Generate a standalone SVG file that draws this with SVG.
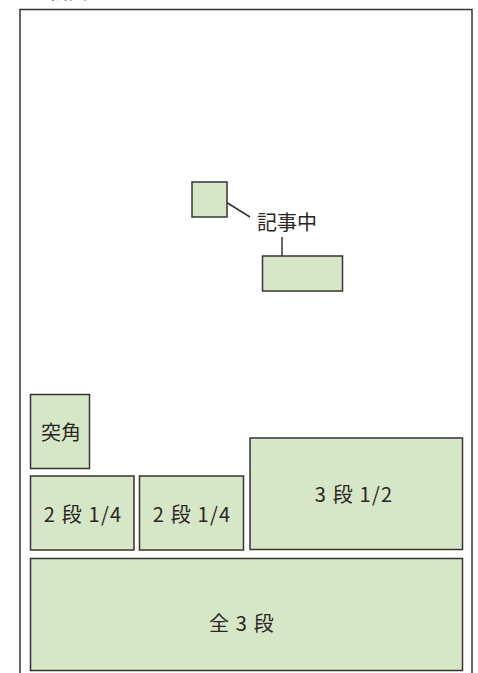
<svg xmlns="http://www.w3.org/2000/svg" width="478" height="673" viewBox="0 0 478 673">
<style>
.box{fill:#d5e7c6;stroke:#3a3230;stroke-width:1.5}
.ln{fill:none;stroke:#3a3230;stroke-width:1.5}
.t{font-family:"Noto Sans CJK JP","Noto Sans",sans-serif;font-size:20px;fill:#2b2624;text-anchor:middle}
.n{letter-spacing:1.2px}
</style>
<rect width="478" height="673" fill="#ffffff"/>
<g id="frame">
<path class="ln" d="M20,673 V9.5 H472 V673"/>
<text class="t" x="68" y="-1.5">紙面</text>
</g>
<g id="connectors">
<line class="ln" x1="221" y1="199" x2="250" y2="217"/>
<line class="ln" x1="282" y1="237" x2="282" y2="264"/>
</g>
<g id="small-box"><rect class="box" x="192" y="182" width="35" height="35"/></g>
<g id="label-kiji"><text class="t" x="287" y="230">記事中</text></g>
<g id="wide-box"><rect class="box" x="262.5" y="256" width="80" height="35"/></g>
<g id="tsukkado"><rect class="box" x="30.5" y="394.5" width="59" height="74"/><text class="t" x="61" y="440">突角</text></g>
<g id="nidan1"><rect class="box" x="30.5" y="476" width="103.5" height="74"/><text class="t n" x="83" y="522">2 段 1/4</text></g>
<g id="nidan2"><rect class="box" x="139.5" y="476" width="104" height="74"/><text class="t n" x="192" y="522">2 段 1/4</text></g>
<g id="sandan-half"><rect class="box" x="250" y="438" width="212.5" height="111.5"/><text class="t n" x="354" y="502">3 段 1/2</text></g>
<g id="zen-sandan"><rect class="box" x="30.5" y="558.5" width="432" height="112"/><text class="t n" x="242" y="631">全 3 段</text></g>
</svg>
